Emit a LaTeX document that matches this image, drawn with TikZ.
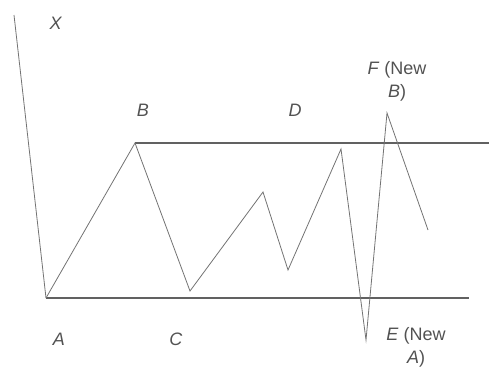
\documentclass[tikz,border=0pt]{standalone}
\usepackage{fontspec}
\setmainfont{Liberation Sans}
\usetikzlibrary{positioning}

\begin{document}
\begin{tikzpicture}[x=1pt,y=-1pt,
  lbl/.style={text=black!68,font=\fontsize{18}{23}\selectfont,align=center,inner sep=0pt},
  wave/.style={draw=black!55,line width=0.8pt,line join=miter},
  level/.style={draw=black!62,line width=1.4pt}]
\useasboundingbox (0,0) rectangle (489,367);
% turning points of the price swing
\coordinate (top) at (14,15);
\coordinate (a) at (46,298);
\coordinate (b) at (135,143);
\coordinate (c) at (190,291);
\coordinate (p1) at (263,192);
\coordinate (p2) at (288,270);
\coordinate (d) at (341,149);
\coordinate (e) at (366,340);
\coordinate (f) at (387,113);
\coordinate (tail) at (428,230);
\coordinate (aend) at (469,298);
\coordinate (bend) at (489,143);
% axis and the two levels
\draw[wave] (top) -- (a);
\draw[level] (a) -- (aend);
\draw[level] (b) -- (bend);
\draw[wave] (a) -- (b) -- (c) -- (p1) -- (p2) -- (d) -- (e) -- (f) -- (tail);
% labels
\node[lbl] (xl) at (56,23) {\textit{X}};
\node[lbl] (bl) at (143,110) {\textit{B}};
\node[lbl] (dl) at (295,110) {\textit{D}};
\node[lbl] (al) at (59,339) {\textit{A}};
\node[lbl] (cl) at (176,339) {\textit{C}};
\node[lbl] (fl) at (397,81) {\textit{F} (New\\\textit{B})};
\node[lbl] (el) at (416,347) {\textit{E} (New\\\textit{A})};
\end{tikzpicture}
\end{document}
